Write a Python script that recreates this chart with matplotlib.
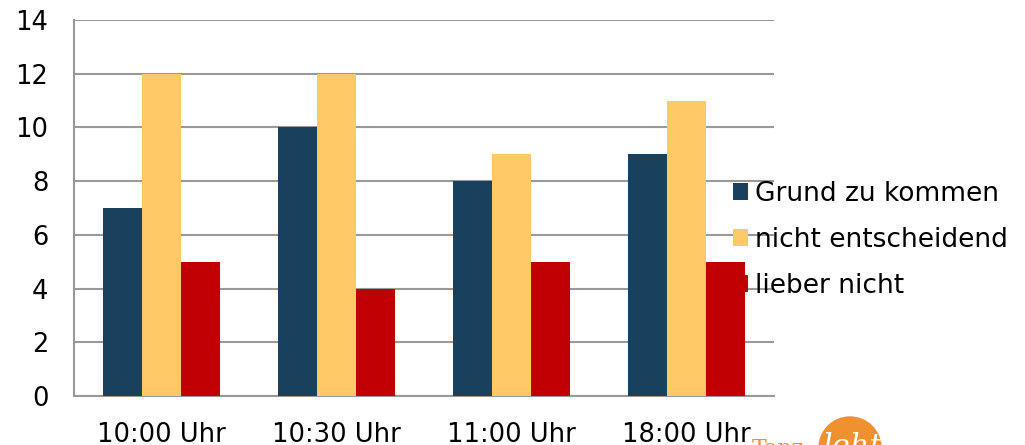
import numpy as np
import matplotlib
matplotlib.use("Agg")
import matplotlib.pyplot as plt
from matplotlib.patches import Ellipse

# data
categories = ["10:00 Uhr", "10:30 Uhr", "11:00 Uhr", "18:00 Uhr"]
grund = [7, 10, 8, 9]
nicht_entsch = [12, 12, 9, 11]
lieber_nicht = [5, 4, 5, 5]
series_names = ["Grund zu kommen", "nicht entscheidend", "lieber nicht"]
colors = ["#17415c", "#ffc966", "#c00000"]

plt.rcParams['font.family'] = ['DejaVu Sans']
plt.rcParams['font.size'] = 19

fig = plt.figure(figsize=(10.25, 4.45), dpi=100)
ax = fig.add_axes([74/1025, 1-396/445, 700/1025, 376/445])

x = np.arange(len(categories))
w = 0.221
for i, (vals, name, c) in enumerate(zip([grund, nicht_entsch, lieber_nicht], series_names, colors)):
    ax.bar(x + (i-1)*w, vals, w, color=c, label=name, zorder=3, linewidth=0)

ax.set_xlim(-0.5, 3.5)
ax.set_ylim(0, 14)
ax.set_yticks(range(0, 15, 2))
ax.set_xticks(x)
ax.set_xticklabels(categories)
ax.yaxis.grid(True, color="#999999", linewidth=1.5, zorder=0)
ax.set_axisbelow(True)
for s in ["top", "right"]:
    ax.spines[s].set_visible(False)
for s in ["left", "bottom"]:
    ax.spines[s].set_color("#999999")
    ax.spines[s].set_linewidth(1.5)
ax.tick_params(axis="both", length=0, labelsize=18.5, colors="black")
ax.tick_params(axis="y", pad=18.5)
ax.tick_params(axis="x", pad=18.5)

leg = ax.legend(loc="center left", bbox_to_anchor=(648/700, 0.415), frameon=False,
                handlelength=0.6, handleheight=0.6, handletextpad=0.25,
                labelspacing=0.75, fontsize=19, borderaxespad=0)

# logo remnant in lower right corner
fig.patches.append(Ellipse((850/1025, 1-448/445), 62/1025, 62/445, transform=fig.transFigure,
                           color="#f0902e", zorder=5))
fig.text(823/1025, 1-456/445, "lehte", color="white", fontsize=22, style="italic",
         family="serif", zorder=6)
fig.text(752/1025, 1-455/445, "Tanz", color="#f0902e", fontsize=16,
         family="serif", zorder=6)

fig.savefig("out.png", dpi=100)
